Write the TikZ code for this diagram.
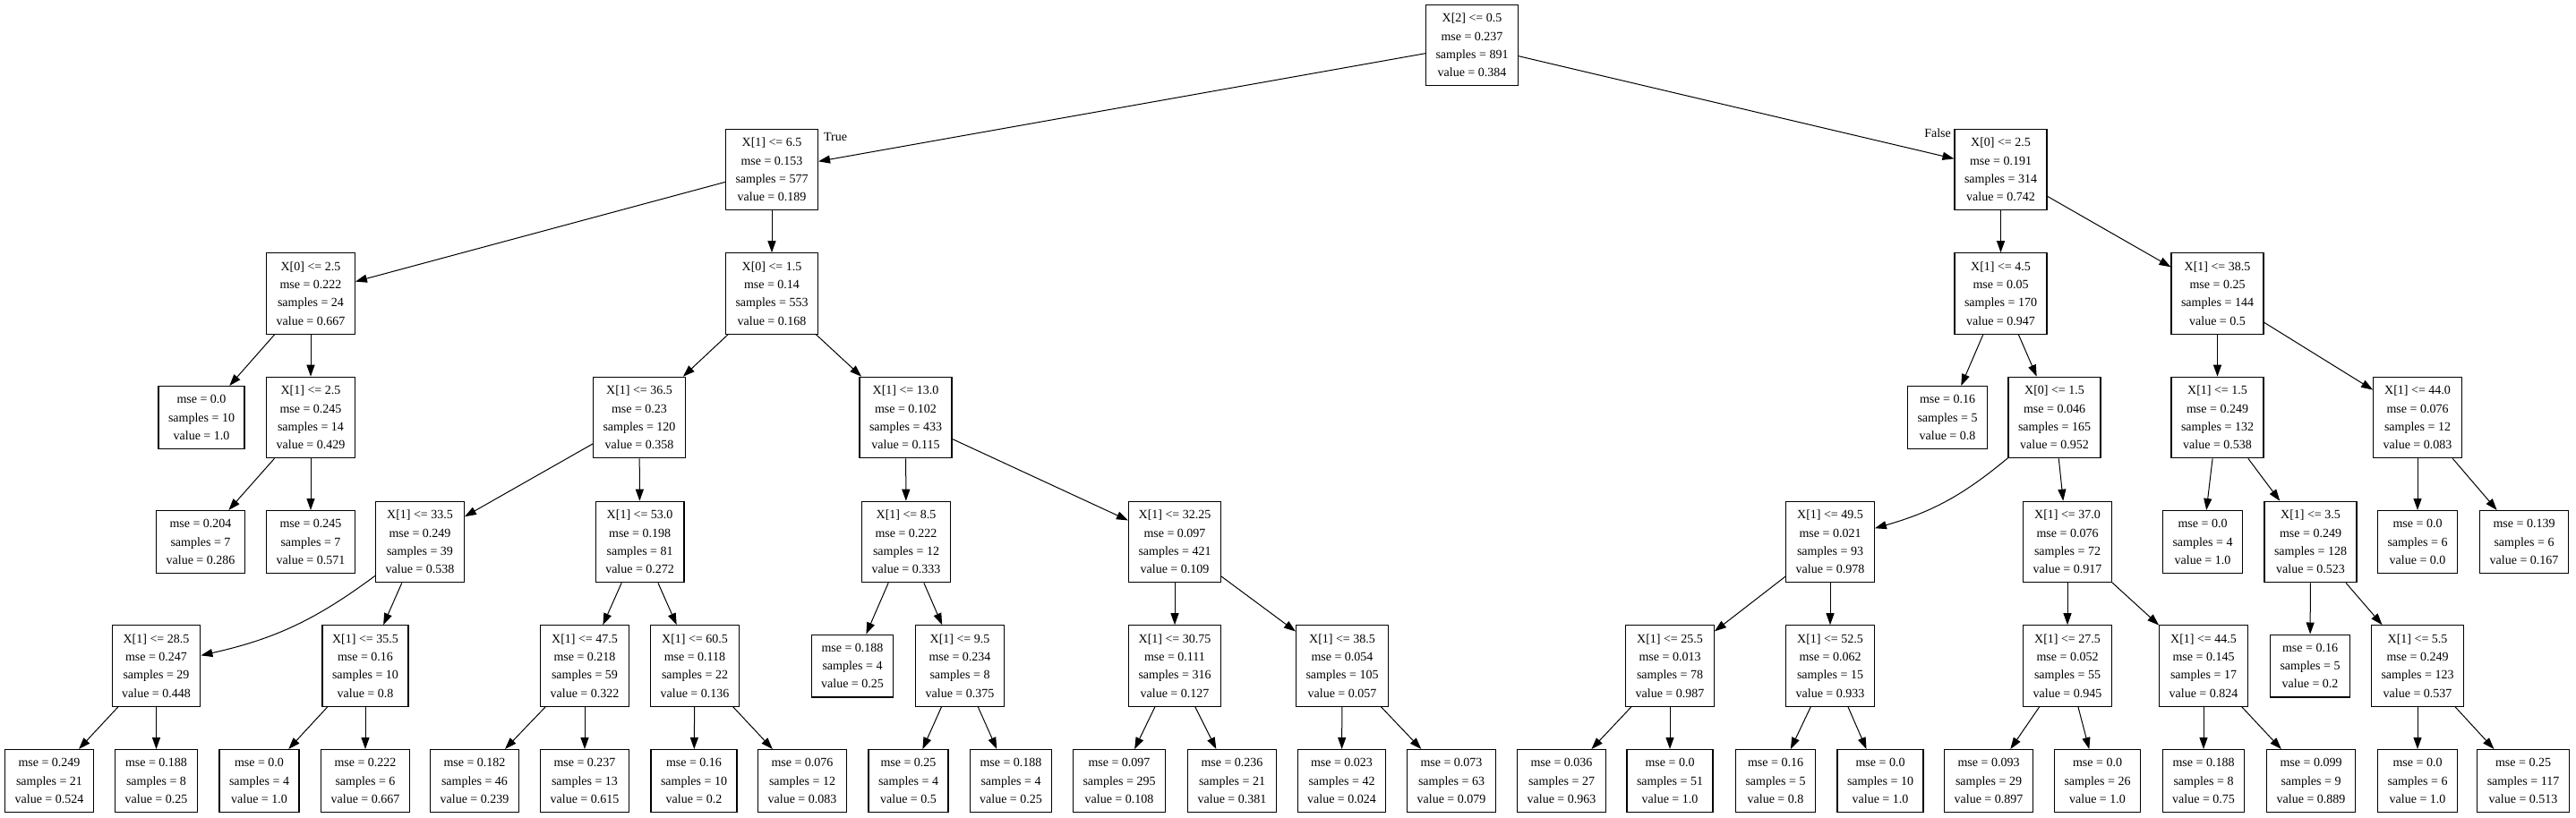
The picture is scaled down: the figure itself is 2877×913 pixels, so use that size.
\documentclass[tikz,border=0pt]{standalone}
\usepackage{fontspec}
\setmainfont{Liberation Serif}
\usetikzlibrary{arrows.meta}
\tikzset{every picture/.style={font issue={\fontsize{14}{20.2}}},
            font issue/.style={execute at begin picture={#1\selectfont}},
            tnode/.style={draw,rectangle,line width=1.1pt,align=center,inner xsep=11pt,inner ysep=10pt,fill=white},
            arr/.style={-{Triangle[length=13pt,width=9pt]},line width=1pt}
        }

\begin{document}
\begin{tikzpicture}[x=1pt,y=-1pt]
      \useasboundingbox (0,0) rectangle (2877,913);
      % nodes, left subtree
      \node[tnode] (t0) at (1644,50.5) {X[2] <= 0.5\\mse = 0.237\\samples = 891\\value = 0.384};
      \node[tnode] (t1) at (862,189.5) {X[1] <= 6.5\\mse = 0.153\\samples = 577\\value = 0.189};
      \node[tnode] (t2) at (347,328) {X[0] <= 2.5\\mse = 0.222\\samples = 24\\value = 0.667};
      \node[tnode] (t3) at (225,466.5) {mse = 0.0\\samples = 10\\value = 1.0};
      \node[tnode] (t4) at (347,466.5) {X[1] <= 2.5\\mse = 0.245\\samples = 14\\value = 0.429};
      \node[tnode] (t5) at (224,605.5) {mse = 0.204\\samples = 7\\value = 0.286};
      \node[tnode] (t6) at (347,605.5) {mse = 0.245\\samples = 7\\value = 0.571};
      \node[tnode] (t7) at (862,328) {X[0] <= 1.5\\mse = 0.14\\samples = 553\\value = 0.168};
      \node[tnode] (t8) at (714,466.5) {X[1] <= 36.5\\mse = 0.23\\samples = 120\\value = 0.358};
      \node[tnode] (t9) at (469,605.5) {X[1] <= 33.5\\mse = 0.249\\samples = 39\\value = 0.538};
      \node[tnode] (t10) at (174.5,744) {X[1] <= 28.5\\mse = 0.247\\samples = 29\\value = 0.448};
      \node[tnode] (t11) at (55,872.5) {mse = 0.249\\samples = 21\\value = 0.524};
      \node[tnode] (t12) at (174.5,872.5) {mse = 0.188\\samples = 8\\value = 0.25};
      \node[tnode] (t13) at (408,744) {X[1] <= 35.5\\mse = 0.16\\samples = 10\\value = 0.8};
      \node[tnode] (t14) at (289.5,872.5) {mse = 0.0\\samples = 4\\value = 1.0};
      \node[tnode] (t15) at (408,872.5) {mse = 0.222\\samples = 6\\value = 0.667};
      \node[tnode] (t16) at (714.6,605.5) {X[1] <= 53.0\\mse = 0.198\\samples = 81\\value = 0.272};
      \node[tnode] (t17) at (653,744) {X[1] <= 47.5\\mse = 0.218\\samples = 59\\value = 0.322};
      \node[tnode] (t18) at (530,872.5) {mse = 0.182\\samples = 46\\value = 0.239};
      \node[tnode] (t19) at (653,872.5) {mse = 0.237\\samples = 13\\value = 0.615};
      \node[tnode] (t20) at (776,744) {X[1] <= 60.5\\mse = 0.118\\samples = 22\\value = 0.136};
      \node[tnode] (t21) at (775,872.5) {mse = 0.16\\samples = 10\\value = 0.2};
      \node[tnode] (t22) at (896,872.5) {mse = 0.076\\samples = 12\\value = 0.083};
      \node[tnode] (t23) at (1011.5,466.5) {X[1] <= 13.0\\mse = 0.102\\samples = 433\\value = 0.115};
      \node[tnode] (t24) at (1012,605.5) {X[1] <= 8.5\\mse = 0.222\\samples = 12\\value = 0.333};
      \node[tnode] (t25) at (952,744) {mse = 0.188\\samples = 4\\value = 0.25};
      \node[tnode] (t26) at (1072,744) {X[1] <= 9.5\\mse = 0.234\\samples = 8\\value = 0.375};
      \node[tnode] (t27) at (1014.5,872.5) {mse = 0.25\\samples = 4\\value = 0.5};
      \node[tnode] (t28) at (1129,872.5) {mse = 0.188\\samples = 4\\value = 0.25};
      \node[tnode] (t29) at (1312,605.5) {X[1] <= 32.25\\mse = 0.097\\samples = 421\\value = 0.109};
      \node[tnode] (t30) at (1312,744) {X[1] <= 30.75\\mse = 0.111\\samples = 316\\value = 0.127};
      \node[tnode] (t31) at (1250,872.5) {mse = 0.097\\samples = 295\\value = 0.108};
      \node[tnode] (t32) at (1376,872.5) {mse = 0.236\\samples = 21\\value = 0.381};
      \node[tnode] (t33) at (1499,744) {X[1] <= 38.5\\mse = 0.054\\samples = 105\\value = 0.057};
      \node[tnode] (t34) at (1498.5,872.5) {mse = 0.023\\samples = 42\\value = 0.024};
      \node[tnode] (t35) at (1621,872.5) {mse = 0.073\\samples = 63\\value = 0.079};
      % nodes, right subtree
      \node[tnode] (t36) at (2234.5,189.5) {X[0] <= 2.5\\mse = 0.191\\samples = 314\\value = 0.742};
      \node[tnode] (t37) at (2234.5,328) {X[1] <= 4.5\\mse = 0.05\\samples = 170\\value = 0.947};
      \node[tnode] (t38) at (2175,466.5) {mse = 0.16\\samples = 5\\value = 0.8};
      \node[tnode] (t39) at (2294.5,466.5) {X[0] <= 1.5\\mse = 0.046\\samples = 165\\value = 0.952};
      \node[tnode] (t40) at (2044,605.5) {X[1] <= 49.5\\mse = 0.021\\samples = 93\\value = 0.978};
      \node[tnode] (t41) at (1865,744) {X[1] <= 25.5\\mse = 0.013\\samples = 78\\value = 0.987};
      \node[tnode] (t42) at (1744,872.5) {mse = 0.036\\samples = 27\\value = 0.963};
      \node[tnode] (t43) at (1865,872.5) {mse = 0.0\\samples = 51\\value = 1.0};
      \node[tnode] (t44) at (2044,744) {X[1] <= 52.5\\mse = 0.062\\samples = 15\\value = 0.933};
      \node[tnode] (t45) at (1983,872.5) {mse = 0.16\\samples = 5\\value = 0.8};
      \node[tnode] (t46) at (2100,872.5) {mse = 0.0\\samples = 10\\value = 1.0};
      \node[tnode] (t47) at (2309,605.5) {X[1] <= 37.0\\mse = 0.076\\samples = 72\\value = 0.917};
      \node[tnode] (t48) at (2309,744) {X[1] <= 27.5\\mse = 0.052\\samples = 55\\value = 0.945};
      \node[tnode] (t49) at (2221,872.5) {mse = 0.093\\samples = 29\\value = 0.897};
      \node[tnode] (t50) at (2342.5,872.5) {mse = 0.0\\samples = 26\\value = 1.0};
      \node[tnode] (t51) at (2461,744) {X[1] <= 44.5\\mse = 0.145\\samples = 17\\value = 0.824};
      \node[tnode] (t52) at (2461,872.5) {mse = 0.188\\samples = 8\\value = 0.75};
      \node[tnode] (t53) at (2581,872.5) {mse = 0.099\\samples = 9\\value = 0.889};
      \node[tnode] (t54) at (2476.5,328) {X[1] <= 38.5\\mse = 0.25\\samples = 144\\value = 0.5};
      \node[tnode] (t55) at (2476.5,466.5) {X[1] <= 1.5\\mse = 0.249\\samples = 132\\value = 0.538};
      \node[tnode] (t56) at (2460,605.5) {mse = 0.0\\samples = 4\\value = 1.0};
      \node[tnode] (t57) at (2580.5,605.5) {X[1] <= 3.5\\mse = 0.249\\samples = 128\\value = 0.523};
      \node[tnode] (t58) at (2580,744) {mse = 0.16\\samples = 5\\value = 0.2};
      \node[tnode] (t59) at (2700,744) {X[1] <= 5.5\\mse = 0.249\\samples = 123\\value = 0.537};
      \node[tnode] (t60) at (2700,872.5) {mse = 0.0\\samples = 6\\value = 1.0};
      \node[tnode] (t61) at (2818,872.5) {mse = 0.25\\samples = 117\\value = 0.513};
      \node[tnode] (t62) at (2700,466.5) {X[1] <= 44.0\\mse = 0.076\\samples = 12\\value = 0.083};
      \node[tnode] (t63) at (2700,605.5) {mse = 0.0\\samples = 6\\value = 0.0};
      \node[tnode] (t64) at (2819,605.5) {mse = 0.139\\samples = 6\\value = 0.167};

      % edges
      \draw[arr] (t0) -- (t1); \draw[arr] (t0) -- (t36);
      \draw[arr] (t1) -- (t2); \draw[arr] (t1) -- (t7);
      \draw[arr] (t2) -- (t3); \draw[arr] (t2) -- (t4);
      \draw[arr] (t4) -- (t5); \draw[arr] (t4) -- (t6);
      \draw[arr] (t7) -- (t8); \draw[arr] (t7) -- (t23);
      \draw[arr] (t8) -- (t9); \draw[arr] (t8) -- (t16);
      \draw[arr] (t9) to[bend left=12] (t10); \draw[arr] (t9) -- (t13);
      \draw[arr] (t10) -- (t11); \draw[arr] (t10) -- (t12);
      \draw[arr] (t13) -- (t14); \draw[arr] (t13) -- (t15);
      \draw[arr] (t16) -- (t17); \draw[arr] (t16) -- (t20);
      \draw[arr] (t17) -- (t18); \draw[arr] (t17) -- (t19);
      \draw[arr] (t20) -- (t21); \draw[arr] (t20) -- (t22);
      \draw[arr] (t23) -- (t24); \draw[arr] (t23) -- (t29);
      \draw[arr] (t24) -- (t25); \draw[arr] (t24) -- (t26);
      \draw[arr] (t26) -- (t27); \draw[arr] (t26) -- (t28);
      \draw[arr] (t29) -- (t30); \draw[arr] (t29) -- (t33);
      \draw[arr] (t30) -- (t31); \draw[arr] (t30) -- (t32);
      \draw[arr] (t33) -- (t34); \draw[arr] (t33) -- (t35);
      \draw[arr] (t36) -- (t37); \draw[arr] (t36) -- (t54);
      \draw[arr] (t37) -- (t38); \draw[arr] (t37) -- (t39);
      \draw[arr] (t39) to[bend left=12] (t40); \draw[arr] (t39) -- (t47);
      \draw[arr] (t40) -- (t41); \draw[arr] (t40) -- (t44);
      \draw[arr] (t41) -- (t42); \draw[arr] (t41) -- (t43);
      \draw[arr] (t44) -- (t45); \draw[arr] (t44) -- (t46);
      \draw[arr] (t47) -- (t48); \draw[arr] (t47) -- (t51);
      \draw[arr] (t48) -- (t49); \draw[arr] (t48) -- (t50);
      \draw[arr] (t51) -- (t52); \draw[arr] (t51) -- (t53);
      \draw[arr] (t54) -- (t55); \draw[arr] (t54) -- (t62);
      \draw[arr] (t55) -- (t56); \draw[arr] (t55) -- (t57);
      \draw[arr] (t57) -- (t58); \draw[arr] (t57) -- (t59);
      \draw[arr] (t59) -- (t60); \draw[arr] (t59) -- (t61);
      \draw[arr] (t62) -- (t63); \draw[arr] (t62) -- (t64);

      % edge labels
      \node (ltrue) at (933,153) {True};
      \node (lfalse) at (2164,149) {False};
    \end{tikzpicture}
\end{document}
